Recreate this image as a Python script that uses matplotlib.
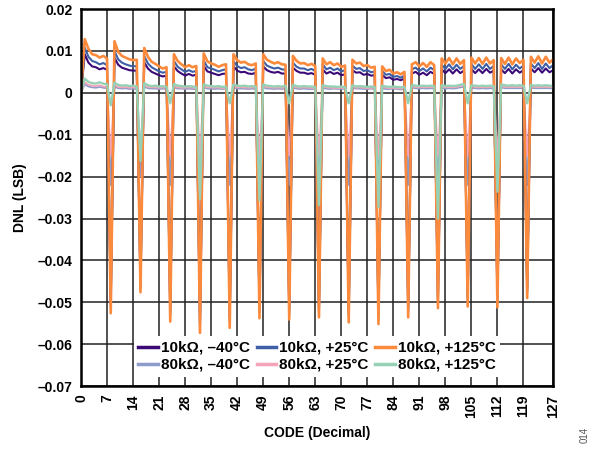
import numpy as np
import matplotlib
matplotlib.use("Agg")
import matplotlib.pyplot as plt

plt.rcParams["font.family"] = ["Liberation Sans", "DejaVu Sans"]
plt.rcParams["font.weight"] = "bold"

# ---------------------------------------------------------------------------
# Data (DNL in milli-LSB, one value per code 0..127)
# ---------------------------------------------------------------------------
codes = np.arange(128)

dnl_10k_m40 = [
    0.0,
    9.2, 7.2, 6.3, 6.1, 5.6, 5.9, 5.5, -50.0,
    8.4, 6.7, 6.0, 5.7, 5.4, 5.3, 5.3, -45.5,
    7.3, 5.8, 5.0, 4.6, 4.2, 3.9, 4.1, -52.0,
    6.3, 5.2, 4.6, 4.1, 4.5, 4.1, 4.3, -54.8,
    6.4, 5.1, 4.8, 4.5, 4.2, 4.5, 4.6, -53.6,
    6.3, 5.3, 4.9, 5.0, 4.6, 4.5, 4.8, -51.3,
    6.3, 5.4, 5.0, 4.8, 5.0, 4.6, 4.6, -51.8,
    6.0, 5.2, 4.8, 4.8, 4.5, 4.7, 4.3, -51.2,
    5.6, 4.6, 5.0, 4.5, 4.8, 4.2, 4.4, -52.3,
    5.4, 4.8, 4.9, 4.3, 4.5, 4.1, 4.2, -52.9,
    4.3, 3.5, 3.7, 3.1, 3.3, 3.0, 3.4, -51.2,
    4.6, 5.0, 4.3, 4.8, 4.2, 5.0, 4.5, -49.0,
    5.6, 4.7, 5.6, 4.6, 5.6, 4.7, 5.3, -48.6,
    5.7, 4.7, 5.6, 4.7, 5.7, 4.8, 5.3, -48.8,
    5.6, 4.7, 5.7, 4.6, 5.6, 4.8, 5.4, -46.7,
    5.8, 4.9, 5.9, 4.8, 5.8, 4.9, 5.4,
]

dnl_10k_p25 = [
    0.0,
    10.8, 8.6, 7.6, 7.3, 6.8, 7.1, 6.6, -51.0,
    10.0, 8.0, 7.2, 6.8, 6.5, 6.3, 6.4, -46.5,
    8.8, 7.0, 6.1, 5.6, 5.1, 4.8, 5.0, -53.0,
    7.6, 6.2, 5.6, 5.0, 5.4, 5.0, 5.2, -55.8,
    7.7, 6.1, 5.8, 5.5, 5.1, 5.4, 5.6, -54.6,
    7.5, 6.4, 5.9, 6.1, 5.6, 5.4, 5.8, -52.3,
    7.6, 6.5, 6.1, 5.8, 6.0, 5.6, 5.5, -52.8,
    7.2, 6.2, 5.8, 5.8, 5.4, 5.7, 5.2, -52.2,
    6.8, 5.6, 6.0, 5.4, 5.8, 5.1, 5.4, -53.3,
    6.5, 5.7, 5.9, 5.2, 5.4, 4.9, 5.1, -53.9,
    5.2, 4.3, 4.5, 3.8, 4.0, 3.6, 4.1, -52.2,
    5.6, 6.0, 5.2, 5.8, 5.1, 6.0, 5.4, -50.0,
    6.7, 5.7, 6.8, 5.6, 6.7, 5.7, 6.4, -49.6,
    6.9, 5.7, 6.8, 5.7, 6.9, 5.7, 6.4, -49.8,
    6.8, 5.7, 6.9, 5.6, 6.7, 5.8, 6.5, -47.7,
    7.0, 5.9, 7.1, 5.7, 7.0, 5.9, 6.6,
]

dnl_10k_p125 = [
    0.0,
    12.8, 10.5, 9.2, 9.0, 8.4, 8.8, 8.2, -52.6,
    12.3, 9.8, 8.8, 8.4, 8.0, 7.8, 7.9, -47.6,
    10.7, 8.6, 7.4, 6.9, 6.3, 5.8, 6.1, -54.6,
    9.2, 7.6, 6.8, 6.1, 6.6, 6.1, 6.4, -57.3,
    9.4, 7.5, 7.0, 6.7, 6.2, 6.6, 6.8, -56.1,
    9.2, 7.8, 7.2, 7.4, 6.8, 6.6, 7.0, -53.8,
    9.2, 7.9, 7.4, 7.0, 7.3, 6.8, 6.7, -54.1,
    8.8, 7.6, 7.0, 7.1, 6.6, 6.9, 6.4, -53.6,
    8.2, 6.8, 7.3, 6.6, 7.0, 6.2, 6.5, -54.8,
    7.9, 7.0, 7.2, 6.4, 6.6, 6.0, 6.2, -55.2,
    6.3, 5.2, 5.5, 4.6, 4.9, 4.4, 5.0, -53.6,
    6.8, 7.3, 6.3, 7.1, 6.2, 7.3, 6.6, -51.4,
    8.2, 7.0, 8.3, 6.8, 8.2, 6.9, 7.8, -51.0,
    8.4, 7.0, 8.3, 6.9, 8.4, 7.0, 7.8, -51.2,
    8.3, 6.9, 8.4, 6.8, 8.2, 7.1, 7.9, -49.0,
    8.6, 7.2, 8.7, 7.0, 8.6, 7.2, 8.0,
]

dnl_80k_m40 = [
    0.0,
    2.0, 1.5, 1.3, 1.2, 1.4, 1.2, 1.1, -22.0,
    1.4, 1.1, 1.0, 1.1, 0.9, 1.0, 0.9, -20.0,
    1.4, 1.1, 1.0, 1.0, 0.9, 1.0, 0.9, -22.0,
    1.3, 1.0, 1.0, 0.9, 1.0, 0.9, 0.9, -22.0,
    1.3, 1.0, 1.0, 0.9, 1.0, 0.9, 1.0, -22.0,
    1.3, 1.0, 1.0, 1.0, 0.9, 1.0, 0.9, -22.0,
    1.3, 1.0, 1.0, 0.9, 1.0, 0.9, 1.0, -22.0,
    1.2, 1.0, 0.9, 1.0, 0.9, 0.9, 0.9, -22.0,
    1.2, 1.0, 0.9, 1.0, 0.9, 1.0, 0.9, -22.0,
    1.2, 1.0, 1.0, 0.9, 0.9, 1.0, 0.9, -22.0,
    1.1, 0.9, 0.9, 1.0, 0.9, 0.8, 0.9, -22.0,
    1.2, 1.1, 1.0, 1.1, 1.0, 1.1, 1.0, -22.0,
    1.2, 1.0, 1.1, 1.0, 1.1, 1.3, 1.4, -22.0,
    1.2, 1.1, 1.0, 1.1, 1.0, 1.1, 1.0, -22.0,
    1.3, 1.1, 1.1, 1.1, 1.1, 1.1, 1.1, -22.0,
    1.2, 1.1, 1.1, 1.1, 1.1, 1.1, 1.0,
]

dnl_80k_p25 = [
    0.0,
    2.5, 1.9, 1.7, 1.6, 1.8, 1.5, 1.4, -15.0,
    1.8, 1.4, 1.3, 1.4, 1.2, 1.3, 1.2, -14.0,
    1.8, 1.4, 1.3, 1.3, 1.2, 1.3, 1.1, -15.0,
    1.6, 1.3, 1.2, 1.2, 1.3, 1.2, 1.1, -15.0,
    1.6, 1.3, 1.3, 1.2, 1.3, 1.1, 1.2, -15.0,
    1.6, 1.3, 1.3, 1.3, 1.2, 1.3, 1.2, -15.0,
    1.6, 1.3, 1.3, 1.2, 1.3, 1.2, 1.3, -15.0,
    1.5, 1.3, 1.2, 1.3, 1.2, 1.2, 1.1, -15.0,
    1.5, 1.3, 1.2, 1.2, 1.1, 1.2, 1.1, -15.0,
    1.5, 1.2, 1.3, 1.2, 1.1, 1.2, 1.1, -15.0,
    1.4, 1.2, 1.1, 1.2, 1.1, 1.0, 1.1, -15.0,
    1.5, 1.4, 1.3, 1.4, 1.3, 1.4, 1.3, -15.0,
    1.5, 1.3, 1.4, 1.3, 1.4, 1.6, 1.8, -15.0,
    1.5, 1.4, 1.3, 1.4, 1.3, 1.4, 1.3, -15.0,
    1.6, 1.4, 1.4, 1.4, 1.4, 1.4, 1.4, -15.0,
    1.5, 1.4, 1.4, 1.4, 1.4, 1.4, 1.3,
]

dnl_80k_p125 = [
    0.0,
    3.4, 2.6, 2.3, 2.2, 2.5, 2.2, 2.0, -3.0,
    2.4, 1.9, 1.7, 1.8, 1.6, 1.7, 1.5, -16.3,
    2.3, 1.8, 1.6, 1.7, 1.5, 1.6, 1.4, -2.5,
    2.1, 1.7, 1.6, 1.5, 1.6, 1.5, 1.4, -25.3,
    2.0, 1.7, 1.6, 1.5, 1.6, 1.4, 1.5, -2.5,
    2.0, 1.7, 1.6, 1.7, 1.5, 1.6, 1.5, -25.7,
    2.0, 1.7, 1.6, 1.5, 1.6, 1.5, 1.7, -2.5,
    1.9, 1.6, 1.5, 1.6, 1.5, 1.5, 1.4, -26.8,
    1.8, 1.6, 1.5, 1.5, 1.4, 1.5, 1.4, -2.5,
    1.8, 1.5, 1.6, 1.5, 1.4, 1.5, 1.4, -27.3,
    1.7, 1.5, 1.4, 1.5, 1.4, 1.3, 1.4, -2.5,
    1.9, 1.7, 1.6, 1.7, 1.6, 1.7, 1.6, -30.0,
    1.8, 1.6, 1.7, 1.6, 1.7, 1.9, 2.1, -2.5,
    1.8, 1.7, 1.6, 1.7, 1.6, 1.7, 1.6, -23.6,
    2.0, 1.8, 1.7, 1.8, 1.7, 1.8, 1.7, -2.5,
    1.9, 1.7, 1.8, 1.7, 1.8, 1.7, 1.6,
]

# label, values, colour, line width, draw order
SERIES = [
    ("10kΩ, –40°C", dnl_10k_m40, "#3b0a78", 1.5, 4),
    ("10kΩ, +25°C", dnl_10k_p25, "#3e5fa6", 1.5, 5),
    ("10kΩ, +125°C", dnl_10k_p125, "#fb8a3c", 1.9, 6),
    ("80kΩ, –40°C", dnl_80k_m40, "#8e9ccc", 1.3, 2),
    ("80kΩ, +25°C", dnl_80k_p25, "#f4a4b9", 1.3, 3),
    ("80kΩ, +125°C", dnl_80k_p125, "#96d1b5", 1.7, 7),
]

x_ticks = [0, 7, 14, 21, 28, 35, 42, 49, 56, 63, 70, 77, 84, 91, 98,
           105, 112, 119, 127]
y_ticks = [-0.07, -0.06, -0.05, -0.04, -0.03, -0.02, -0.01, 0, 0.01, 0.02]

# ---------------------------------------------------------------------------
# Plot
# ---------------------------------------------------------------------------
fig = plt.figure(figsize=(6, 4.5), dpi=100)
ax = fig.add_axes([0.135, 0.142, 0.787, 0.838])

handles = []
for label, vals, color, lw, z in SERIES:
    h, = ax.plot(codes, np.array(vals) / 1000.0, color=color, linewidth=lw,
                 label=label, zorder=z)
    handles.append(h)

ax.set_xlim(0, 127)
ax.set_ylim(-0.07, 0.02)
ax.set_xticks(x_ticks)
ax.set_xticklabels([str(t) for t in x_ticks], rotation=90, fontsize=10,
                   fontweight="bold")
ax.set_yticks(y_ticks)
ax.set_yticklabels([("%g" % round(t, 2)).replace("-", "–") for t in y_ticks],
                   fontsize=10, fontweight="bold")
ax.tick_params(length=0, pad=6)
ax.grid(True, color="#222222", linewidth=1.1)
ax.set_axisbelow(True)
for sp in ax.spines.values():
    sp.set_linewidth(1.8)
    sp.set_color("black")
    sp.set_zorder(20)

ax.set_xlabel("CODE (Decimal)", fontsize=10, fontweight="bold", labelpad=6)
ax.set_ylabel("DNL (LSB)", fontsize=10, fontweight="bold", labelpad=8)

# legend filled row by row (matplotlib fills column by column)
order = [0, 3, 1, 4, 2, 5]
leg = ax.legend([handles[i] for i in order], [SERIES[i][0] for i in order],
                loc="lower center", bbox_to_anchor=(0.5, 0.005), ncol=3,
                fontsize=11, frameon=True, framealpha=1, facecolor="white",
                edgecolor="none", handlelength=1.3, handletextpad=0.2,
                columnspacing=0.4, labelspacing=0.2, borderpad=0.3,
                fancybox=False)
leg.set_zorder(30)
for line in leg.get_lines():
    line.set_linewidth(2.5)

fig.text(0.975, 0.015, "014", rotation=90, fontsize=7, fontweight="normal",
         color="#555555", ha="center", va="bottom")

fig.savefig("out.png", dpi=100)
